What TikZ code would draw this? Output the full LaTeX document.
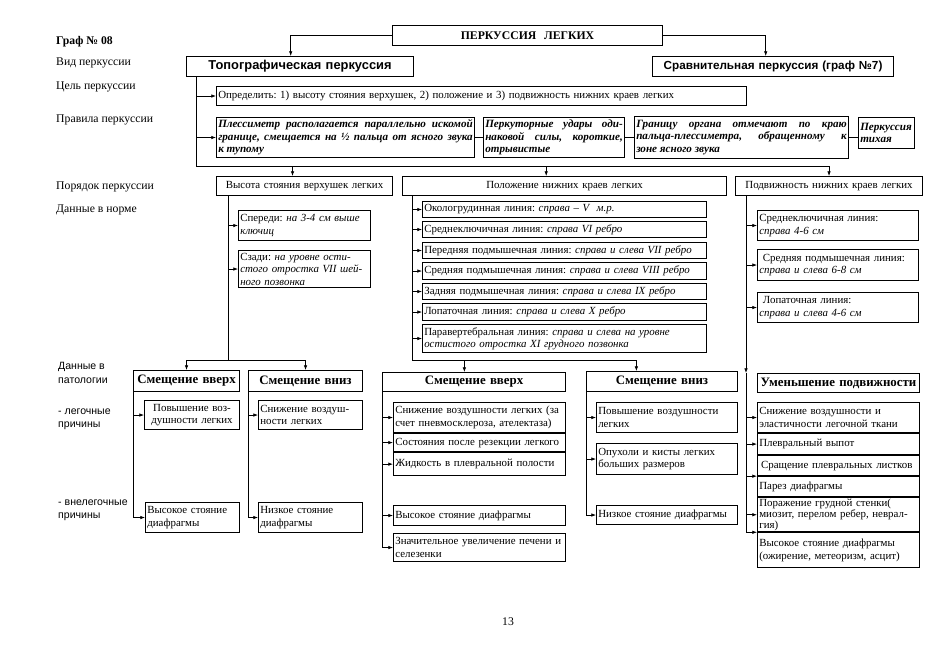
\documentclass[tikz,border=0pt]{standalone}
\usepackage{fontspec}
\setmainfont{Liberation Serif}
\setsansfont{Liberation Sans}
\usetikzlibrary{arrows.meta}
\frenchspacing
\tikzset{
  blok/.style={draw, line width=0.9pt, anchor=north west, inner xsep=1.5pt, inner ysep=0.5pt,
               align=left, font=\fontsize{9.3pt}{10.6pt}\selectfont},
  razm/.style 2 args={minimum width=#1*0.03cm, text width=#1*0.03cm-3pt, minimum height=#2*0.03cm},
  zagol/.style={blok, align=center, font=\fontsize{11pt}{13pt}\selectfont\bfseries},
  vid/.style={blok, align=center, font=\fontsize{11pt}{13pt}\selectfont\sffamily\bfseries},
  pravilo/.style={blok, align=justify, font=\fontsize{9.5pt}{10.7pt}\selectfont\bfseries\itshape},
  metka/.style={anchor=west, align=left, inner sep=0pt, font=\fontsize{10pt}{12pt}\selectfont},
  metkasf/.style={metka, font=\fontsize{9pt}{11.5pt}\selectfont\sffamily},
  liniya/.style={line width=0.6pt},
  strelka/.style={liniya, -{Latex[length=4pt,width=3pt]}},
}

\begin{document}
\begin{tikzpicture}[x=0.03cm, y=-0.03cm]
  \fill[white] (0,0) rectangle (937,650);
  \useasboundingbox (0,0) rectangle (937,650);

  % подписи слева
  \node[metka, font=\fontsize{10pt}{12pt}\selectfont\bfseries] (graf) at (56,42) {Граф № 08};
  \node[metka] (lvid) at (56,63) {Вид перкуссии};
  \node[metka] (lcel) at (56,87) {Цель перкуссии};
  \node[metka] (lprav) at (56,120) {Правила перкуссии};
  \node[metka] (lpor) at (56,187) {Порядок перкуссии};
  \node[metka] (lnorm) at (56,210) {Данные в норме};
  \node[metkasf] (lpat) at (58,373) {Данные в\\патологии};
  \node[metkasf] (lleg) at (58,419) {- легочные\\причины};
  \node[metkasf] (lvne) at (58,510) {- внелегочные\\причины};

  % верх
  \node[blok, align=center, font=\fontsize{10pt}{12pt}\selectfont\bfseries, razm={270}{20}] (perk) at (392,25) {ПЕРКУССИЯ\ \ ЛЕГКИХ};
  \node[vid, razm={227}{20}] (topo) at (186,56) {Топографическая перкуссия};
  \node[vid, font=\fontsize{10pt}{12pt}\selectfont\sffamily\bfseries, razm={241}{20}] (srav) at (652,56) {Сравнительная перкуссия (граф №7)};
  \draw[strelka] (perk.west) -| ([xshift=-0.28cm]topo.north);
  \draw[strelka] (perk.east) -| ([xshift=-0.22cm]srav.north);

  \node[blok, razm={530}{19}] (cel) at (216,86) {Определить: 1) высоту стояния верхушек, 2) положение и 3) подвижность нижних краев легких};

  \node[pravilo, razm={258}{40}] (pr1) at (216,117) {Плессиметр располагается параллельно искомой\linebreak границе, смещается на ½ пальца от ясного звука\linebreak к тупому};
  \node[pravilo, razm={141}{40}] (pr2) at (483,117) {Перкуторные удары оди-\linebreak наковой силы, короткие,\linebreak отрывистые};
  \node[pravilo, razm={214}{42}] (pr3) at (634,116) {Границу органа отмечают по краю\linebreak пальца-плессиметра, обращенному к\linebreak зоне ясного звука};
  \node[pravilo, align=left, razm={56}{31}] (pr4) at (858,117) {Перкуссия\\тихая};
  \draw[liniya] (pr1.east) -- (pr2.west);
  \draw[liniya] (pr2.east) -- (pr3.west);
  \draw[liniya] (pr3.east) -- (pr3.east -| pr4.west);

  % порядок перкуссии
  \node[blok, align=center, razm={176}{19}] (vys) at (216,176) {Высота стояния верхушек легких};
  \node[blok, align=center, razm={324}{19}] (pol) at (402,176) {Положение нижних краев легких};
  \node[blok, align=center, razm={187}{19}] (podv) at (735,176) {Подвижность нижних краев легких};

  \coordinate (t1) at (196,166);
  \draw[strelka] (topo.south -| t1) -- (t1) -| (podv.north);
  \draw[strelka] (t1 |- cel.west) -- (cel.west);
  \draw[strelka] (t1 |- pr1.west) -- (pr1.west);
  \draw[strelka] ([xshift=-0.36cm]vys.north |- t1) -- ([xshift=-0.36cm]vys.north);
  \draw[strelka] ([xshift=-0.55cm]pol.north |- t1) -- ([xshift=-0.55cm]pol.north);

  % данные в норме
  \node[blok, razm={132}{30}] (sp1) at (238,210) {Спереди: \textit{на 3-4 см выше}\\\textit{ключиц}};
  \node[blok, razm={132}{37}] (sz1) at (238,250) {Сзади: \textit{на уровне ости-}\\\textit{стого отростка VII шей-}\\\textit{ного позвонка}};

  \node[blok, razm={284}{16}] (ok2) at (422,201) {Окологрудинная линия: \textit{справа – V\ \ м.р.}};
  \node[blok, razm={284}{16}] (sk2) at (422,221) {Среднеключичная линия: \textit{справа VI ребро}};
  \node[blok, razm={284}{16}] (pe2) at (422,242) {Передняя подмышечная линия: \textit{справа и слева VII ребро}};
  \node[blok, razm={284}{17}] (sr2) at (422,262) {Средняя подмышечная линия: \textit{справа и слева VIII ребро}};
  \node[blok, razm={284}{16}] (za2) at (422,283) {Задняя подмышечная линия: \textit{справа и слева IX ребро}};
  \node[blok, razm={284}{17}] (lo2) at (422,303) {Лопаточная линия: \textit{справа и слева X ребро}};
  \node[blok, razm={284}{28}] (pa2) at (422,324) {Паравертебральная линия: \textit{справа и слева на уровне}\\\textit{остистого отростка XI грудного позвонка}};

  \node[blok, razm={161}{30}] (sk3) at (757,210) {Среднеключичная линия:\\\textit{справа 4-6 см}};
  \node[blok, razm={161}{31}] (sp3) at (757,249) {\ Средняя подмышечная линия:\\\textit{справа и слева 6-8 см}};
  \node[blok, razm={161}{30}] (lo3) at (757,292) {\ Лопаточная линия:\\\textit{справа и слева 4-6 см}};

  % данные в патологии
  \node[zagol, razm={106}{21}] (up1) at (133,370) {Смещение вверх};
  \node[zagol, razm={114}{21}] (dn1) at (248,370) {Смещение вниз};
  \node[zagol, razm={183}{19}] (up2) at (382,372) {Смещение вверх};
  \node[zagol, razm={151}{20}] (dn2) at (586,371) {Смещение вниз};
  \node[zagol, razm={162}{19}] (um3) at (757,373) {Уменьшение подвижности};

  \node[blok, align=center, razm={95}{29}] (pv1) at (144,400) {Повышение воз-\\душности легких};
  \node[blok, razm={94}{30}] (vh1) at (145,502) {Высокое стояние\\диафрагмы};
  \node[blok, razm={104}{29}] (sn1) at (258,400) {Снижение воздуш-\\ности легких};
  \node[blok, razm={104}{30}] (nz1) at (258,502) {Низкое стояние\\диафрагмы};

  \node[blok, razm={172}{30}] (sn2) at (393,402) {Снижение воздушности легких (за\\счет пневмосклероза, ателектаза)};
  \node[blok, razm={172}{18}] (so2) at (sn2.south west) {Состояния после резекции легкого};
  \node[blok, razm={172}{23}] (zh2) at (so2.south west) {Жидкость в плевральной полости};
  \node[blok, razm={172}{20}] (vy2) at (393,505) {Высокое стояние диафрагмы};
  \node[blok, razm={172}{28}] (zn2) at (393,533) {Значительное увеличение печени и\\селезенки};

  \node[blok, razm={141}{30}] (pv2) at (596,402) {Повышение воздушности\\легких};
  \node[blok, razm={141}{31}] (op2) at (596,443) {Опухоли и кисты легких\\больших размеров};
  \node[blok, razm={141}{19}] (nz2) at (596,505) {Низкое стояние диафрагмы};

  \node[blok, razm={162}{30}] (sn3) at (757,402) {Снижение воздушности и\\эластичности легочной ткани};
  \node[blok, razm={162}{21}] (pl3) at (sn3.south west) {Плевральный выпот};
  \node[blok, razm={162}{20}] (sr3) at (pl3.south west) {\,Сращение плевральных листков};
  \node[blok, razm={162}{20}] (pa3) at (sr3.south west) {Парез диафрагмы};
  \node[blok, font=\fontsize{9.3pt}{9.6pt}\selectfont, razm={162}{34}] (po3) at (pa3.south west) {Поражение грудной стенки(\\миозит, перелом ребер, неврал-\\гия)};
  \node[blok, razm={162}{35}] (vy3) at (po3.south west) {Высокое стояние диафрагмы\\(ожирение, метеоризм, асцит)};

  % столбец 1
  \coordinate (n1) at (228,360);
  \draw[liniya] (vys.south -| n1) -- (n1);
  \draw[strelka] (n1 |- sp1.west) -- (sp1.west);
  \draw[strelka] (n1 |- sz1.west) -- (sz1.west);
  \draw[strelka] (n1) -| (up1.north);
  \draw[strelka] (n1) -| (dn1.north);
  \draw[strelka] (up1.south west) |- (pv1.west);
  \draw[strelka] (up1.south west) |- (vh1.west);
  \draw[strelka] (dn1.south west) |- (sn1.west);
  \draw[strelka] (dn1.south west) |- (nz1.west);

  % столбец 2
  \coordinate (n2) at (412,360);
  \draw[liniya] (pol.south -| n2) -- (n2);
  \foreach \b in {ok2,sk2,pe2,sr2,za2,lo2,pa2}
    \draw[strelka] (n2 |- \b.west) -- (\b.west);
  \draw[strelka] (n2) -| ([xshift=-0.29cm]up2.north);
  \draw[strelka] (n2) -| ([xshift=-0.77cm]dn2.north);
  \foreach \b in {sn2,so2,zh2,vy2,zn2}
    \draw[strelka] (up2.south west) |- (\b.west);
  \foreach \b in {pv2,op2,nz2}
    \draw[strelka] (dn2.south west) |- (\b.west);

  % столбец 3
  \coordinate (n3) at (746,360);
  \draw[strelka] (podv.south -| n3) -- (n3 |- um3.north);
  \draw[liniya] (n3 |- um3.north) -- (n3 |- vy3.north west);
  \foreach \b in {sk3,sp3,lo3}
    \draw[strelka] (n3 |- \b.west) -- (\b.west);
  \draw[strelka] (n3 |- sn3.west) -- (sn3.west);
  \draw[strelka] (n3 |- pl3.west) -- (pl3.west);
  \draw[strelka] (n3 |- pa3.north west) -- (pa3.north west);
  \draw[strelka] (n3 |- po3.west) -- (po3.west);
  \draw[strelka] (n3 |- vy3.north west) -- (vy3.north west);

  \node[metka] (str) at (502,622) {13};
\end{tikzpicture}
\end{document}
